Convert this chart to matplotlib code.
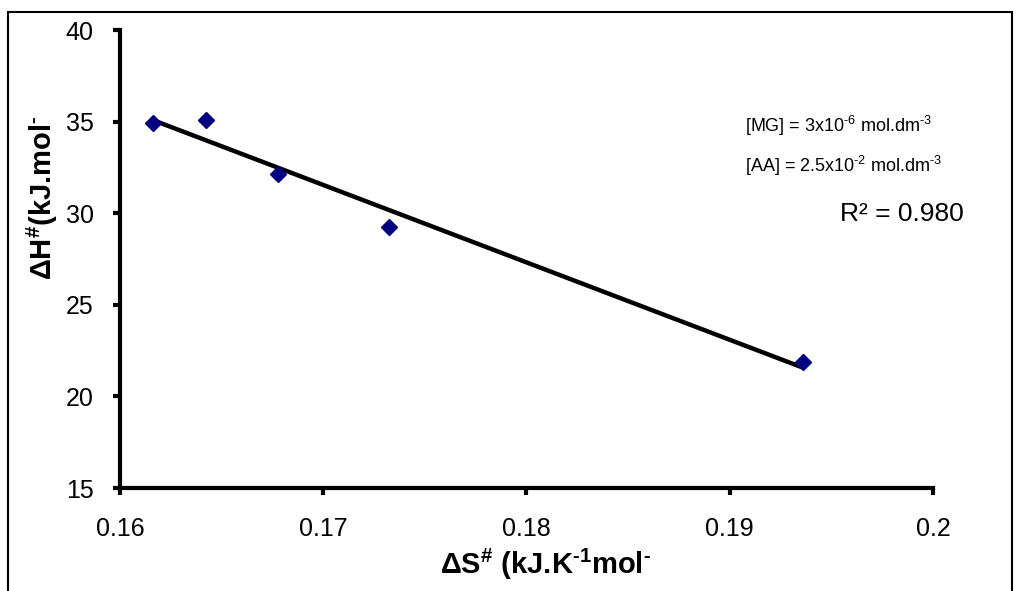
from matplotlib import pyplot as plt
from matplotlib.patches import Rectangle
import numpy as np

plt.rcParams['font.family'] = ['Liberation Sans', 'DejaVu Sans']
plt.rcParams['mathtext.fontset'] = 'custom'
plt.rcParams['mathtext.rm'] = 'Liberation Sans'
plt.rcParams['mathtext.bf'] = 'Liberation Sans:bold'
plt.rcParams['mathtext.default'] = 'regular'

## data
dS = [0.16162, 0.16423, 0.16777, 0.17323, 0.1936]
dH = [34.92, 35.1, 32.14, 29.25, 21.88]
x_ticks = [0.16, 0.17, 0.18, 0.19, 0.2]
x_labels = ['0.16', '0.17', '0.18', '0.19', '0.2']
y_ticks = [15, 20, 25, 30, 35, 40]

fig = plt.figure(figsize=(10.19, 5.91), dpi=100)
ax = fig.add_axes([120/1019, 1-488/591, 813/1019, 458/591])

# outer chart border
fig.patches.append(Rectangle((8/1019, -0.05), 1004/1019, 1.05 - 12/591,
                             transform=fig.transFigure, fill=False,
                             edgecolor='black', linewidth=1.5))

# linear trend line
k, b = np.polyfit(dS, dH, 1)
xs = np.array([min(dS), max(dS)])
ax.plot(xs, k*xs + b, color='black', linewidth=3.2, solid_capstyle='butt', zorder=2)
ax.plot(dS, dH, linestyle='none', marker='D', markersize=8.5, color='#000080', zorder=3)

ax.set_xlim(0.16, 0.2)
ax.set_ylim(15, 40)
ax.set_xticks(x_ticks)
ax.set_xticklabels(x_labels)
ax.set_yticks(y_ticks)
ax.spines['top'].set_visible(False)
ax.spines['right'].set_visible(False)
ax.spines['left'].set_linewidth(3)
ax.spines['bottom'].set_linewidth(3)
ax.tick_params(direction='out', length=5, width=3, labelsize=18)
ax.tick_params(axis='x', pad=16)
ax.tick_params(axis='y', pad=14)

hy = '\u2010'
ax.set_xlabel(r'$\Delta$S$^{\#}$ (kJ.K$^{' + hy + '1}$mol$^{' + hy + '}$',
              fontsize=21, fontweight='bold')
ax.xaxis.set_label_coords(0.524, -0.128)
ax.set_ylabel(r'$\Delta$H$^{\#}$(kJ.mol$^{' + hy + '}$', fontsize=21, fontweight='bold')
ax.yaxis.set_label_coords(-0.074, 0.633)

ax.text(0.769, 0.777, r'[MG] = 3x10$^{' + hy + '6}$ mol.dm$^{' + hy + '3}$',
        transform=ax.transAxes, fontsize=13, va='baseline')
ax.text(0.769, 0.690, r'[AA] = 2.5x10$^{' + hy + '2}$ mol.dm$^{' + hy + '3}$',
        transform=ax.transAxes, fontsize=13, va='baseline')
ax.text(0.886, 0.583, 'R² = 0.980', transform=ax.transAxes, fontsize=19, va='baseline')

fig.savefig('out.png', dpi=100)
